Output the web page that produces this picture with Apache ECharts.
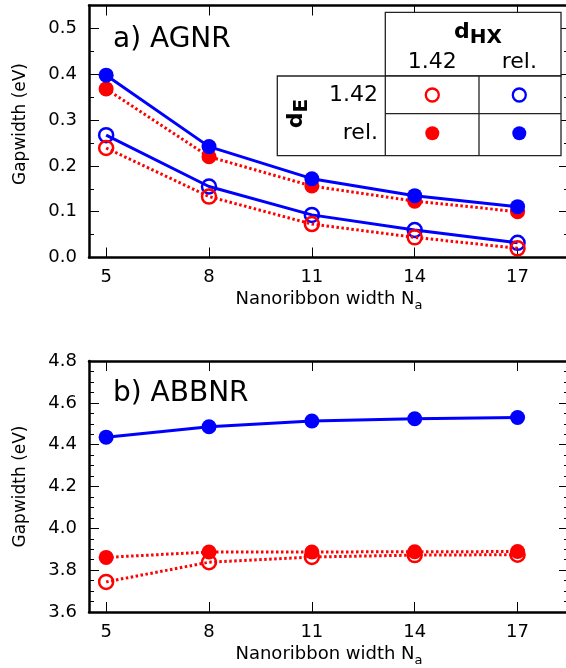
<!DOCTYPE html>
<html>
<head>
<meta charset="utf-8">
<script src="https://cdn.jsdelivr.net/npm/echarts@6/dist/echarts.min.js"></script>
<style>
html,body{margin:0;padding:0;background:#fff;}
#chart{width:566px;height:668px;}
</style>
</head>
<body>
<div id="chart"></div>
<script>
// ---- data ----
const widths = [5, 8, 11, 14, 17];            // Nanoribbon width N_a
const xTickLabels = [5, 8, 11, 14, 17];
const yTicksA = [0.0, 0.1, 0.2, 0.3, 0.4, 0.5];
const yTicksB = [3.6, 3.8, 4.0, 4.2, 4.4, 4.6, 4.8];

// a) AGNR
const agnrRelRel   = [0.398, 0.242, 0.172, 0.135, 0.111]; // blue filled (dHX rel, dE rel)
const agnr142Rel   = [0.368, 0.220, 0.156, 0.123, 0.100]; // red filled (dHX 1.42, dE rel)
const agnrRel142   = [0.267, 0.155, 0.093, 0.060, 0.032]; // blue open (dHX rel, dE 1.42)
const agnr142142   = [0.239, 0.133, 0.073, 0.044, 0.020]; // red open (dHX 1.42, dE 1.42)

// b) ABBNR
const abbnrRelRel  = [4.436, 4.486, 4.513, 4.524, 4.530]; // blue filled
const abbnr142Rel  = [3.861, 3.887, 3.887, 3.888, 3.889]; // red filled
const abbnr142142  = [3.744, 3.838, 3.863, 3.872, 3.874]; // red open

// ---- helpers ----
const RED = '#ff0000', BLUE = '#0000ff';
const FONT = 'DejaVu Sans';
function minorOf(ticks, n) {
  const out = [];
  for (let i = 0; i < ticks.length - 1; i++) {
    const a = ticks[i], b = ticks[i + 1];
    for (let k = 1; k < n; k++) out.push(+(a + (b - a) * k / n).toFixed(4));
  }
  return out;
}
const frame = {show: true, onZero: false, lineStyle: {color: '#000', width: 2.5}};
function xAxes(grid, labelMargin) {
  return [
    {gridIndex: grid, type: 'value', position: 'bottom', min: 4.5, max: 18.5,
     axisLine: frame,
     axisTick: {show: true, inside: true, length: 10, customValues: xTickLabels, lineStyle: {color: '#000', width: 1}},
     axisLabel: {show: true, customValues: xTickLabels, margin: labelMargin, color: '#000', fontSize: 18, fontFamily: FONT},
     splitLine: {show: false},
     name: '{n|Nanoribbon width N}{s|a}', nameLocation: 'middle', nameGap: 33,
     nameTextStyle: {rich: {
       n: {fontSize: 18, fontFamily: FONT, color: '#000', verticalAlign: 'top', lineHeight: 20},
       s: {fontSize: 13, fontFamily: FONT, color: '#000', verticalAlign: 'top', lineHeight: 14, padding: [9, 0, 0, 0]}
     }}},
    {gridIndex: grid, type: 'value', position: 'top', min: 4.5, max: 18.5,
     axisLine: frame,
     axisTick: {show: true, inside: true, length: 10, customValues: xTickLabels, lineStyle: {color: '#000', width: 1}},
     axisLabel: {show: false}, splitLine: {show: false}}
  ];
}
function yAxes(grid, min, max, ticks, minor, dec, namePad) {
  const tickStyle = {color: '#000', width: 1};
  return [
    {gridIndex: grid, type: 'value', position: 'left', min: min, max: max,
     axisLine: frame,
     axisTick: {show: true, inside: true, length: 10, customValues: ticks, lineStyle: tickStyle},
     axisLabel: {show: true, customValues: ticks, margin: 12, color: '#000', fontSize: 18, fontFamily: FONT,
                 formatter: v => v.toFixed(dec)},
     splitLine: {show: false},
     name: 'Gapwidth (eV)', nameLocation: 'middle', nameGap: 60,
     nameTextStyle: {fontSize: 17, fontFamily: FONT, color: '#000', padding: namePad}},
    {gridIndex: grid, type: 'value', position: 'left', min: min, max: max,
     axisLine: {show: false},
     axisTick: {show: true, inside: true, length: 5, customValues: minor, lineStyle: tickStyle},
     axisLabel: {show: false}, splitLine: {show: false}},
    {gridIndex: grid, type: 'value', position: 'right', min: min, max: max,
     axisLine: frame,
     axisTick: {show: true, inside: true, length: 10, customValues: ticks, lineStyle: tickStyle},
     axisLabel: {show: false}, splitLine: {show: false}},
    {gridIndex: grid, type: 'value', position: 'right', min: min, max: max,
     axisLine: {show: false},
     axisTick: {show: true, inside: true, length: 5, customValues: minor, lineStyle: tickStyle},
     axisLabel: {show: false}, splitLine: {show: false}}
  ];
}
function ser(vals, xi, yi, color, filled, dotted, z) {
  return {
    type: 'line', xAxisIndex: xi, yAxisIndex: yi, z: z,
    data: widths.map((x, i) => [x, vals[i]]),
    symbol: 'circle', symbolSize: filled ? 15 : 14,
    itemStyle: filled ? {color: color, borderWidth: 0}
                      : {color: 'rgba(0,0,0,0)', borderColor: color, borderWidth: 2.5},
    lineStyle: {color: color, width: 3, type: dotted ? [2.5, 2.5] : 'solid'},
    emphasis: {disabled: true}, animation: false
  };
}

const chart = echarts.init(document.getElementById('chart'), null, {renderer: 'canvas'});
const option = {
  backgroundColor: '#fff',
  animation: false,
  grid: [
    {left: 89, right: -3, top: 5.5, height: 252, containLabel: false, outerBoundsMode: 'none'},
    {left: 89, right: -3, top: 361, height: 251, containLabel: false, outerBoundsMode: 'none'}
  ],
  xAxis: [...xAxes(0, 11), ...xAxes(1, 11)],
  yAxis: [
    ...yAxes(0, 0, 0.55, yTicksA, yTicksA.slice(0, -1).map(v => +(v + 0.05).toFixed(3)), 1, [0, 0, 0, 15]),
    ...yAxes(1, 3.6, 4.8, yTicksB, minorOf(yTicksB, 4), 1, 0)
  ],
  series: [
    ser(agnr142Rel, 0, 0, RED, true, true, 2),
    ser(agnrRelRel, 0, 0, BLUE, true, false, 3),
    ser(agnrRel142, 0, 0, BLUE, false, false, 4),
    ser(agnr142142, 0, 0, RED, false, true, 5),
    ser(abbnrRelRel, 2, 4, BLUE, true, false, 3),
    ser(abbnr142142, 2, 4, RED, false, true, 4),
    ser(abbnr142Rel, 2, 4, RED, true, true, 5)
  ],
  graphic: [
    {type: 'text', x: 113, y: 40, z: 10,
     style: {text: 'a) AGNR', fontSize: 28, fontFamily: FONT, fill: '#000', align: 'left', verticalAlign: 'middle'}},
    {type: 'text', x: 113, y: 394, z: 10,
     style: {text: 'b) ABBNR', fontSize: 28, fontFamily: FONT, fill: '#000', align: 'left', verticalAlign: 'middle'}},
    // legend table
    {type: 'rect', z: 20, shape: {x: 385.3, y: 12.3, width: 175.7, height: 63.7},
     style: {fill: '#fff', stroke: '#222', lineWidth: 1.3}},
    {type: 'rect', z: 20, shape: {x: 277.3, y: 76, width: 283.7, height: 79.7},
     style: {fill: '#fff', stroke: '#222', lineWidth: 1.3}},
    {type: 'line', z: 21, shape: {x1: 385.3, y1: 76, x2: 385.3, y2: 155.7}, style: {stroke: '#222', lineWidth: 1.3}},
    {type: 'line', z: 21, shape: {x1: 479, y1: 76, x2: 479, y2: 155.7}, style: {stroke: '#222', lineWidth: 1.3}},
    {type: 'line', z: 21, shape: {x1: 385.3, y1: 113.7, x2: 561, y2: 113.7}, style: {stroke: '#222', lineWidth: 1.3}},
    {type: 'text', z: 22, x: 478, y: 32,
     style: {text: '{d|d}{s|HX}', align: 'center', verticalAlign: 'middle',
             rich: {d: {fontSize: 22, fontWeight: 'bold', fontFamily: FONT, fill: '#000', verticalAlign: 'top', lineHeight: 22},
                    s: {fontSize: 20, fontWeight: 'bold', fontFamily: FONT, fill: '#000', verticalAlign: 'top', lineHeight: 20, padding: [7, 0, 0, 0]}}}},
    {type: 'text', z: 22, x: 432.3, y: 62,
     style: {text: '1.42', fontSize: 22, fontFamily: FONT, fill: '#000', align: 'center', verticalAlign: 'middle'}},
    {type: 'text', z: 22, x: 519.3, y: 62,
     style: {text: 'rel.', fontSize: 22, fontFamily: FONT, fill: '#000', align: 'center', verticalAlign: 'middle'}},
    {type: 'text', z: 22, x: 378, y: 95,
     style: {text: '1.42', fontSize: 22, fontFamily: FONT, fill: '#000', align: 'right', verticalAlign: 'middle'}},
    {type: 'text', z: 22, x: 378, y: 133,
     style: {text: 'rel.', fontSize: 22, fontFamily: FONT, fill: '#000', align: 'right', verticalAlign: 'middle'}},
    {type: 'text', z: 22, x: 296, y: 113.5, rotation: Math.PI / 2,
     style: {text: '{d|d}{s|E}', align: 'center', verticalAlign: 'middle',
             rich: {d: {fontSize: 22, fontWeight: 'bold', fontFamily: FONT, fill: '#000', verticalAlign: 'top', lineHeight: 22},
                    s: {fontSize: 20, fontWeight: 'bold', fontFamily: FONT, fill: '#000', verticalAlign: 'top', lineHeight: 20, padding: [7, 0, 0, 0]}}}},
    {type: 'circle', z: 22, shape: {cx: 432.3, cy: 95, r: 6.5}, style: {fill: 'none', stroke: RED, lineWidth: 2.3}},
    {type: 'circle', z: 22, shape: {cx: 519.3, cy: 95, r: 6.5}, style: {fill: 'none', stroke: BLUE, lineWidth: 2.3}},
    {type: 'circle', z: 22, shape: {cx: 432.3, cy: 133.3, r: 7}, style: {fill: RED}},
    {type: 'circle', z: 22, shape: {cx: 519.3, cy: 133.3, r: 7}, style: {fill: BLUE}}
  ]
};
chart.setOption(option);
</script>
</body>
</html>
